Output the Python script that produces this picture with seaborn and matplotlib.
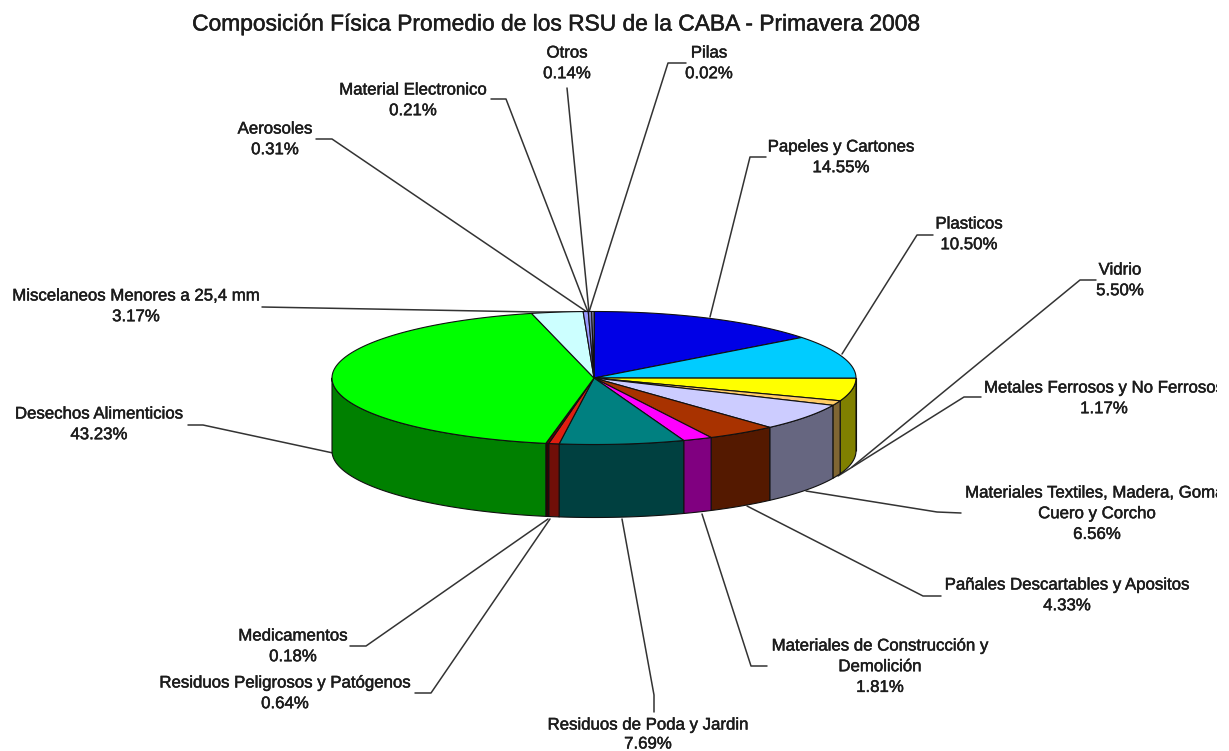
import numpy as np
import matplotlib
matplotlib.use("Agg")
import matplotlib.pyplot as plt
import matplotlib.patheffects as pe
from matplotlib.transforms import Bbox
import seaborn as sns

# Composition of municipal solid waste, clockwise from the top of the pie
categories = [
    "Pilas", "Papeles y Cartones", "Plasticos", "Vidrio",
    "Metales Ferrosos y No Ferrosos",
    "Materiales Textiles, Madera, Goma,\nCuero y Corcho",
    "Pañales Descartables y Apositos",
    "Materiales de Construcción y\nDemolición",
    "Residuos de Poda y Jardin", "Residuos Peligrosos y Patógenos",
    "Medicamentos", "Desechos Alimenticios",
    "Miscelaneos Menores a 25,4 mm", "Aerosoles",
    "Material Electronico", "Otros",
]
shares = [0.02, 14.55, 10.50, 5.50, 1.17, 6.56, 4.33, 1.81,
          7.69, 0.64, 0.18, 43.23, 3.17, 0.31, 0.21, 0.14]
top_colors = ["#3030C0", "#0000E6", "#00CCFF", "#FFFF00", "#FFCC66", "#CCCCFF",
              "#A83200", "#FF00FF", "#008080", "#E01E10", "#600000", "#00FF00",
              "#CCFFFF", "#9999FF", "#8080C0", "#A0A0D0"]
title = "Composición Física Promedio de los RSU de la CABA - Primavera 2008"

sns.set_theme(style="white", rc={"font.family": ["Liberation Sans", "DejaVu Sans"]})
palette = sns.color_palette(top_colors)

# Pie geometry in pixel units of the figure
CX, CY, RX, RY, DEPTH = 594, 378, 262, 66.5, 73
TEXT_COLOR = "#1c1c1c"
LINE_COLOR = "#333333"
CLIP_RIGHT = 1217
LINE_STEP = 20.7

# Text anchor (centre x, first-line y) and leader polyline for every slice
layout = {
    "Pilas": ((709, 53), [(686, 63), (668, 63), (589, 312)]),
    "Papeles y Cartones": ((841, 147), [(766, 157), (750, 157), (710, 317)]),
    "Plasticos": ((969, 224), [(933, 235), (917, 235), (842, 354)]),
    "Vidrio": ((1120, 270), [(1096, 280), (1080, 280), (852, 467)]),
    "Metales Ferrosos y No Ferrosos": ((1104, 388), [(981, 397), (964, 397), (838, 476)]),
    "Materiales Textiles, Madera, Goma,\nCuero y Corcho": ((1097, 493), [(961, 513), (937, 512), (806, 491)]),
    "Pañales Descartables y Apositos": ((1067, 585), [(941, 596), (923, 596), (747, 506)]),
    "Materiales de Construcción y\nDemolición": ((880, 646), [(767, 666), (751, 666), (702, 514)]),
    "Residuos de Poda y Jardin": ((648, 725), [(654, 712), (654, 695), (622, 519)]),
    "Residuos Peligrosos y Patógenos": ((285, 683), [(415, 693), (431, 693), (550, 519)]),
    "Medicamentos": ((293, 636), [(350, 646), (366, 646), (548, 519)]),
    "Desechos Alimenticios": ((99, 414), [(188, 425), (203, 425), (333, 453)]),
    "Miscelaneos Menores a 25,4 mm": ((136, 296), [(262, 307), (536, 312), (589, 312)]),
    "Aerosoles": ((275, 129), [(316, 139), (332, 139), (587, 312)]),
    "Material Electronico": ((413, 90), [(491, 99), (506, 99), (588, 312)]),
    "Otros": ((567, 53), [(567, 88), (578, 200), (589, 312)]),
}


def rim(theta):
    return CX + RX * np.sin(theta), CY - RY * np.cos(theta)


fig = plt.figure(figsize=(12.29, 7.51), dpi=100, facecolor="white")
ax = fig.add_axes([0, 0, 1, 1])
ax.set_xlim(0, 1229)
ax.set_ylim(751, 0)
ax.axis("off")

ends = np.cumsum(shares) / np.sum(shares) * 2 * np.pi
starts = np.concatenate(([0], ends[:-1]))

# Outer wall: only the part of each slice facing the viewer, in half shade
for a, b, color in zip(starts, ends, palette):
    lo, hi = max(a, np.pi / 2), min(b, 3 * np.pi / 2)
    if hi <= lo:
        continue
    t = np.linspace(lo, hi, 80)
    x, y = rim(t)
    px = np.concatenate((x, x[::-1]))
    py = np.concatenate((y, y[::-1] + DEPTH))
    ax.fill(px, py, facecolor=tuple(c * 0.5 for c in color),
            edgecolor="#101010", linewidth=0.8, joinstyle="round", zorder=2)

# Top face
for a, b, color in zip(starts, ends, palette):
    t = np.linspace(a, b, max(3, int((b - a) * 60)))
    x, y = rim(t)
    ax.fill(np.r_[CX, x], np.r_[CY, y], facecolor=color,
            edgecolor="#101010", linewidth=0.8, joinstyle="round", zorder=3)

# Leader lines run beneath the pie
for name in categories:
    pts = np.array(layout[name][1])
    ax.plot(pts[:, 0], pts[:, 1], color=LINE_COLOR, lw=1.1, zorder=1,
            solid_joinstyle="round")

# Slice labels with the stated percentage; the right margin cuts off long lines
clip = Bbox([[0, 0], [CLIP_RIGHT, 751]])
heavier = [pe.withStroke(linewidth=0.35, foreground=TEXT_COLOR)]
for name, value in zip(categories, shares):
    (tx, ty), _ = layout[name]
    lines = name.split("\n") + [f"{value:.2f}%"]
    step = 19 if ty > 700 else LINE_STEP
    for i, line in enumerate(lines):
        txt = ax.text(tx, ty + i * step, line, ha="center", va="center", fontsize=12.1,
                      color=TEXT_COLOR, zorder=5, path_effects=heavier)
        txt.set_clip_box(clip)
        txt.set_clip_on(True)

ax.text(556, 24, title, ha="center", va="center", fontsize=16.4, color=TEXT_COLOR,
        zorder=5, path_effects=heavier)

fig.savefig("out.png", dpi=100, facecolor="white")
